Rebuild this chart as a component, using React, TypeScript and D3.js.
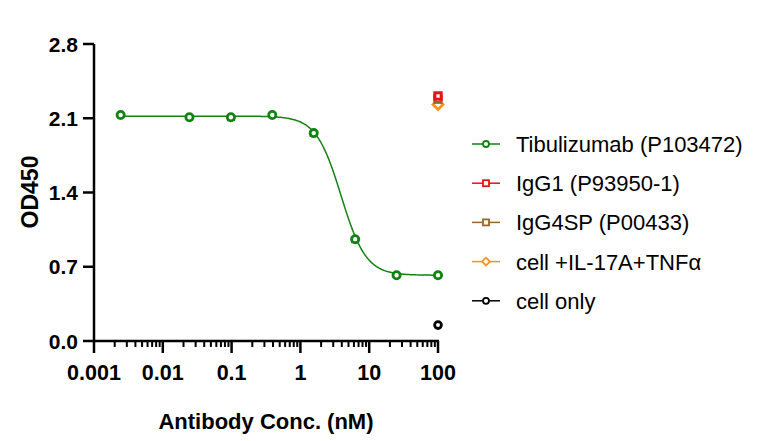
import React from 'react';
import * as d3 from 'd3';

// Tibulizumab dose response (nM vs OD450)
const concentrations = [0.00244, 0.0244, 0.0977, 0.39, 1.5625, 6.25, 25, 100];
const tibulizumabOD = [2.13, 2.11, 2.11, 2.13, 1.96, 0.96, 0.62, 0.62];
const tibulizumabSD = [0.01, 0.01, 0.03, 0.01, 0.03, 0.03, 0.01, 0.01];

// single-point controls at 100 nM
const controlConc = 100;
const igg1OD = 2.31;
const igg4spOD = 2.28;
const stimulatedOD = 2.23;
const cellOnlyOD = 0.15;

// 4PL fit parameters
const fitTop = 2.12;
const fitBottom = 0.62;
const fitIC50 = 3.9;
const fitHill = 2.4;

const xTicks = [0.001, 0.01, 0.1, 1, 10, 100];
const xTickLabels = ['0.001', '0.01', '0.1', '1', '10', '100'];
const yTicks = [0, 0.7, 1.4, 2.1, 2.8];

const legendItems = [
  { label: 'Tibulizumab (P103472)', color: '#128212', shape: 'circle' },
  { label: 'IgG1 (P93950-1)', color: '#e8121a', shape: 'square' },
  { label: 'IgG4SP (P00433)', color: '#94682c', shape: 'square' },
  { label: 'cell +IL-17A+TNFα', color: '#f7931e', shape: 'diamond' },
  { label: 'cell only', color: '#000000', shape: 'circle' },
];

const FONT = "'Liberation Sans', Arial, sans-serif";

const Marker = ({ shape, x, y, color, size, sw }: { shape: string; x: number; y: number; color: string; size: number; sw: number }) => {
  if (shape === 'circle') {
    return <circle cx={x} cy={y} r={size} fill="white" stroke={color} strokeWidth={sw} />;
  }
  if (shape === 'square') {
    return <rect x={x - size} y={y - size} width={size * 2} height={size * 2} fill="white" stroke={color} strokeWidth={sw} />;
  }
  const s = size * 1.3;
  return <path d={`M${x},${y - s}L${x + s},${y}L${x},${y + s}L${x - s},${y}Z`} fill="white" stroke={color} strokeWidth={sw} />;
};

export default function App() {
  const x = d3.scaleLog().domain([0.001, 100]).range([94, 438]);
  const y = d3.scaleLinear().domain([0, 2.8]).range([341, 44]);

  const fit = (c: number) => fitBottom + (fitTop - fitBottom) / (1 + Math.pow(c / fitIC50, fitHill));
  const lo = Math.log10(concentrations[0]);
  const hi = Math.log10(100);
  const curveX = d3.range(0, 301).map(i => Math.pow(10, lo + (i / 300) * (hi - lo)));
  const line = d3.line<number>().x(c => x(c)).y(c => y(fit(c)));

  const minorTicks: number[] = [];
  for (let e = -3; e < 2; e++) {
    for (let m = 2; m <= 9; m++) minorTicks.push(m * Math.pow(10, e));
  }

  const green = legendItems[0].color;

  return (
    <svg width={766} height={441} style={{ position: 'absolute', left: 0, top: 0, background: 'white' }} fontFamily={FONT}>
      {/* axes */}
      <line x1={94} x2={94} y1={y(2.8)} y2={y(0) + 1} stroke="black" strokeWidth={2.5} />
      <line x1={93} x2={x(100) + 1} y1={341} y2={341} stroke="black" strokeWidth={2.5} />
      {yTicks.map(t => (
        <g key={t}>
          <line x1={83} x2={94} y1={y(t)} y2={y(t)} stroke="black" strokeWidth={2.5} />
          <text x={78} y={y(t)} dy="0.36em" textAnchor="end" fontSize={21} fontWeight="bold">{t.toFixed(1)}</text>
        </g>
      ))}
      {minorTicks.map(t => (
        <line key={t} x1={x(t)} x2={x(t)} y1={341} y2={347} stroke="black" strokeWidth={2} />
      ))}
      {xTicks.map((t, i) => (
        <g key={t}>
          <line x1={x(t)} x2={x(t)} y1={341} y2={353} stroke="black" strokeWidth={2.5} />
          <text x={x(t)} y={380} textAnchor="middle" fontSize={21.5} fontWeight="bold">{xTickLabels[i]}</text>
        </g>
      ))}
      <text x={266} y={429} textAnchor="middle" fontSize={22} fontWeight="bold">Antibody Conc. (nM)</text>
      <text transform={`translate(38,192) rotate(-90)`} textAnchor="middle" fontSize={23} fontWeight="bold">OD450</text>

      {/* fit curve */}
      <path d={line(curveX) || ''} fill="none" stroke={green} strokeWidth={1.5} />

      {/* error bars */}
      {concentrations.map((c, i) => (
        <g key={'e' + i} stroke={green} strokeWidth={1.5}>
          <line x1={x(c)} x2={x(c)} y1={y(tibulizumabOD[i] - tibulizumabSD[i])} y2={y(tibulizumabOD[i] + tibulizumabSD[i])} />
          <line x1={x(c) - 4} x2={x(c) + 4} y1={y(tibulizumabOD[i] - tibulizumabSD[i])} y2={y(tibulizumabOD[i] - tibulizumabSD[i])} />
        </g>
      ))}

      {/* points */}
      {concentrations.map((c, i) => (
        <Marker key={'p' + i} shape="circle" x={x(c)} y={y(tibulizumabOD[i])} color={green} size={3.6} sw={2.8} />
      ))}
      <Marker shape="circle" x={x(controlConc)} y={y(cellOnlyOD)} color="#000" size={3.4} sw={2.8} />
      <Marker shape="diamond" x={x(controlConc)} y={y(stimulatedOD)} color={legendItems[3].color} size={3.8} sw={2.8} />
      <Marker shape="square" x={x(controlConc)} y={y(igg4spOD)} color={legendItems[2].color} size={3.2} sw={3} />
      <Marker shape="square" x={x(controlConc)} y={y(igg1OD)} color={legendItems[1].color} size={3.2} sw={3} />

      {/* legend */}
      {legendItems.map((item, i) => {
        const ly = 144 + i * 39.2;
        return (
          <g key={item.label}>
            <line x1={472} x2={500} y1={ly} y2={ly} stroke={item.color} strokeWidth={1.5} />
            <Marker shape={item.shape} x={486} y={ly} color={item.color} size={3} sw={1.8} />
            <text x={516} y={ly} dy="0.36em" fontSize={22}>{item.label}</text>
          </g>
        );
      })}
    </svg>
  );
}
